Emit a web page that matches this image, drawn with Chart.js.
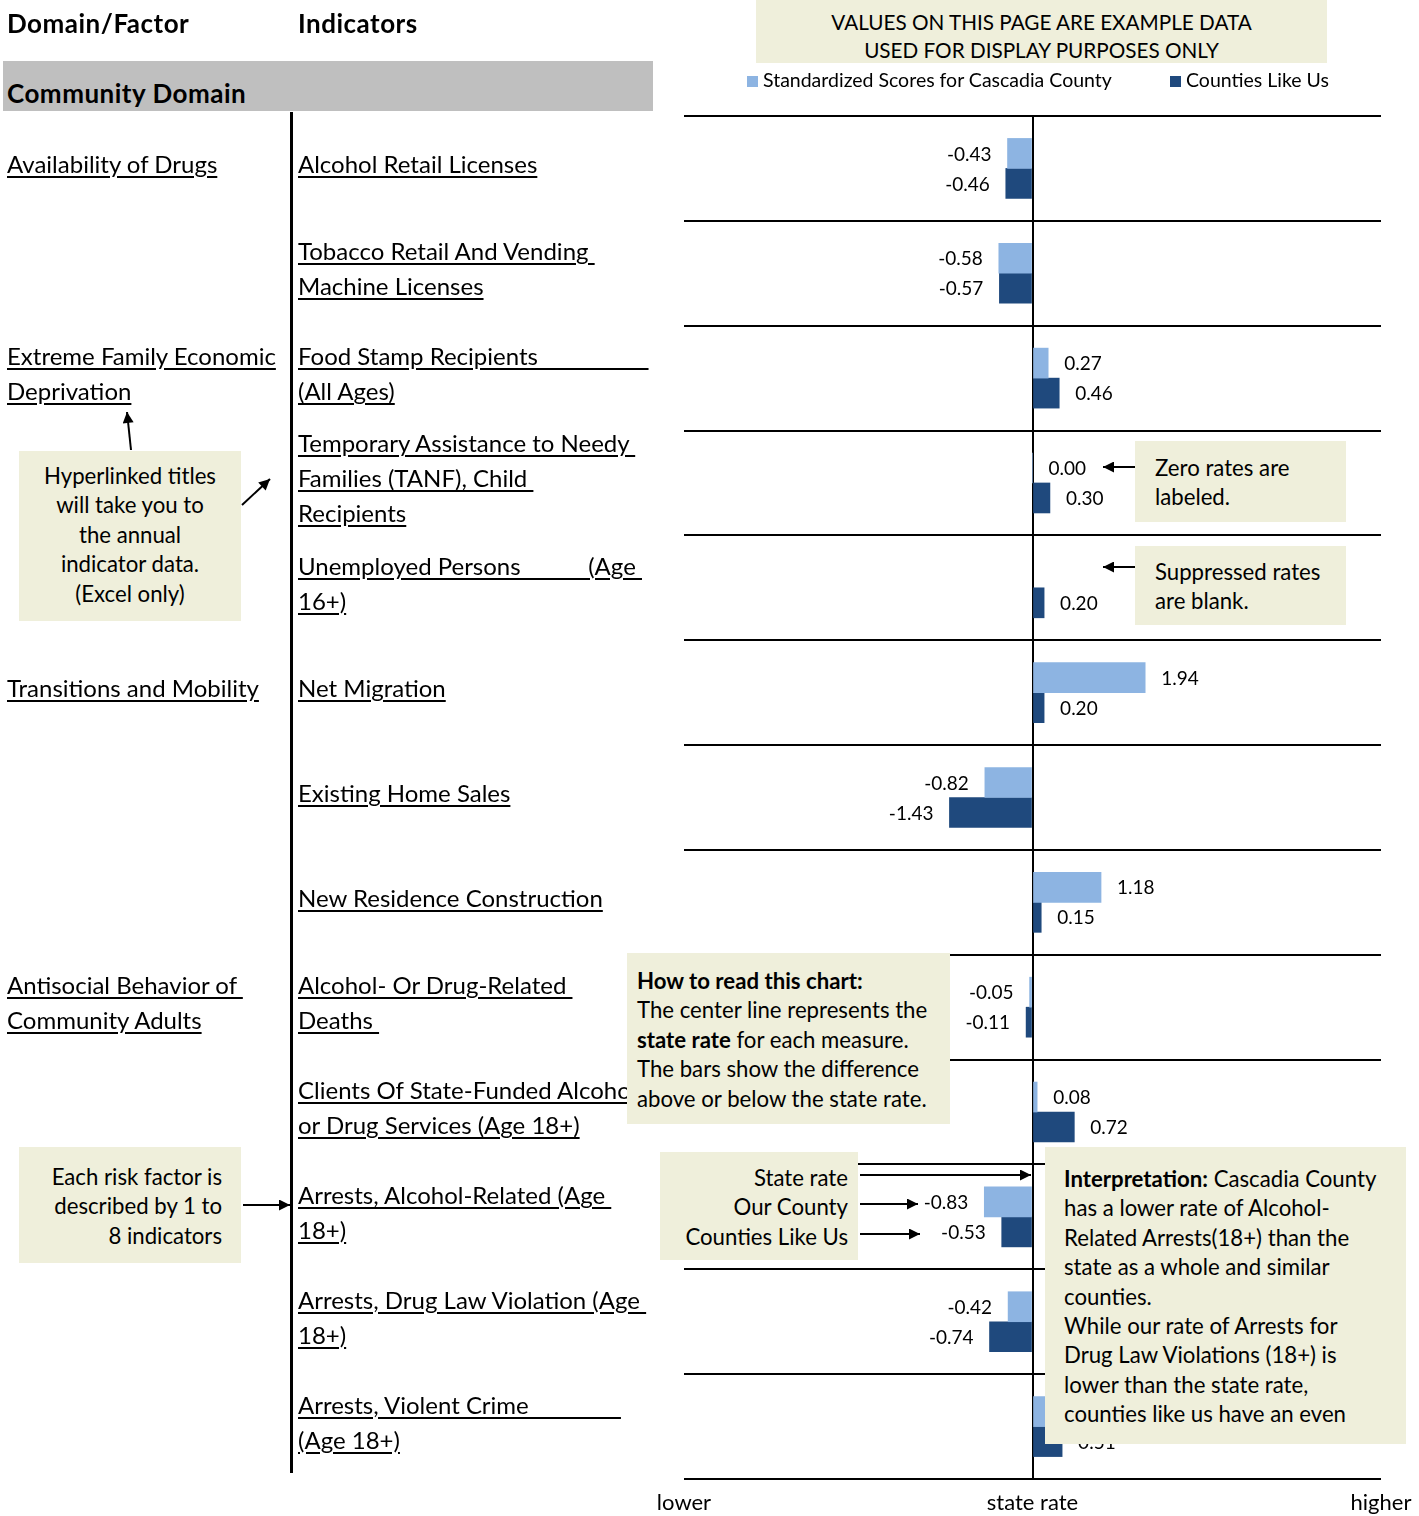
<!DOCTYPE html>
<html>
<head>
<meta charset="utf-8">
<script src="https://cdn.jsdelivr.net/npm/chart.js@4.4.1/dist/chart.umd.min.js"></script>
<style>
  body { margin: 0; background: #fff; }
  #page { position: relative; width: 1419px; height: 1516px; overflow: hidden; font-family: Lato, sans-serif; color: #000; }
  #page canvas { position: absolute; left: 0; top: 0; }
  .t { position: absolute; white-space: pre; line-height: 35px; font-size: 24px; }
  .u { text-decoration: underline; text-underline-offset: 3px; }
  .hdr { position: absolute; font-weight: bold; font-size: 26px; letter-spacing: 0.5px; line-height: 30px; }
  .box { position: absolute; background: #EFEFDB; font-size: 22.2px; line-height: 29.4px; box-sizing: border-box; z-index: 3; white-space: nowrap; }
  .lg { position: absolute; font-size: 19.5px; line-height: 22px; top: 69px; }
  .lg i { display: inline-block; width: 11px; height: 11px; margin-right: 5px; vertical-align: 0px; }
  svg { position: absolute; left: 0; top: 0; z-index: 4; }
</style>
</head>
<body>
<div id="page">
  <canvas id="chart" width="1419" height="1516"></canvas>

  <div class="hdr" style="left:7px; top:8px;">Domain/Factor</div>
  <div class="hdr" style="left:298px; top:8px;">Indicators</div>
  <div style="position:absolute; left:3px; top:61px; width:650px; height:50px; background:#BFBFBF;"></div>
  <div class="hdr" style="left:7px; top:78px;">Community Domain</div>
  <div style="position:absolute; left:290px; top:112px; width:3px; height:1361px; background:#000;"></div>

  <div class="box" style="left:756px; top:0; width:571px; height:63px; padding-top:8px; text-align:center; font-size:20.7px; line-height:28px;">VALUES ON THIS PAGE ARE EXAMPLE DATA<br>USED FOR DISPLAY PURPOSES ONLY</div>
  <div class="lg" style="left:747px;"><i style="background:#8DB4E2"></i>Standardized Scores for Cascadia County</div>
  <div class="lg" style="left:1170px;"><i style="background:#1F497D"></i>Counties Like Us</div>

  <div class="box" style="left:19px; top:451px; width:222px; height:170px; padding-top:10px; text-align:center;">Hyperlinked titles<br>will take you to<br>the annual<br>indicator data.<br>(Excel only)</div>
  <div class="box" style="left:1135px; top:441px; width:211px; height:81px; padding:12px 0 0 20px;">Zero rates are<br>labeled.</div>
  <div class="box" style="left:1135px; top:546px; width:211px; height:79px; padding:11px 0 0 20px;">Suppressed rates<br>are blank.</div>
  <div class="box" style="left:627px; top:953px; width:323px; height:171px; padding:13px 0 0 10px;"><b>How to read this chart:</b><br>The center line represents the<br><b>state rate</b> for each measure.<br>The bars show the difference<br>above or below the state rate.</div>
  <div class="box" style="left:19px; top:1147px; width:222px; height:116px; padding:15px 19px 0 0; text-align:right;">Each risk factor is<br>described by 1 to<br>8 indicators</div>
  <div class="box" style="left:660px; top:1152px; width:198px; height:108px; padding:11px 10px 0 0; text-align:right;">State rate<br>Our County<br>Counties Like Us</div>
  <div class="box" style="left:1045px; top:1147px; width:361px; height:297px; padding:17px 0 0 19px; overflow:hidden;"><b>Interpretation:</b> Cascadia County<br>has a lower rate of Alcohol-<br>Related Arrests(18+) than the<br>state as a whole and similar<br>counties.<br>While our rate of Arrests for<br>Drug Law Violations (18+) is<br>lower than the state rate,<br>counties like us have an even</div>

  <svg width="1419" height="1516">
    <defs>
      <marker id="ah" viewBox="0 0 10 10" refX="10" refY="5" markerWidth="6.5" markerHeight="5.5" orient="auto">
        <path d="M0,0 L10,5 L0,10 z" fill="#000"/>
      </marker>
    </defs>
    <g stroke="#000" stroke-width="2" marker-end="url(#ah)">
      <line x1="131" y1="450" x2="127" y2="412"/>
      <line x1="242" y1="505" x2="270" y2="479"/>
      <line x1="1135" y1="467" x2="1103" y2="467"/>
      <line x1="1135" y1="567" x2="1103" y2="567"/>
      <line x1="243" y1="1205" x2="290" y2="1205"/>
      <line x1="860" y1="1175" x2="1031" y2="1175"/>
      <line x1="860" y1="1204" x2="918" y2="1204"/>
      <line x1="860" y1="1234" x2="920" y2="1234"/>
    </g>
  </svg>
</div>

<script>
// indicator rows, top to bottom
const indicators = [
  "Alcohol Retail Licenses",
  "Tobacco Retail And Vending \nMachine Licenses",
  "Food Stamp Recipients                  \n(All Ages)",
  "Temporary Assistance to Needy \nFamilies (TANF), Child \nRecipients",
  "Unemployed Persons           (Age \n16+)",
  "Net Migration",
  "Existing Home Sales",
  "New Residence Construction",
  "Alcohol- Or Drug-Related \nDeaths ",
  "Clients Of State-Funded Alcohol \nor Drug Services (Age 18+)",
  "Arrests, Alcohol-Related (Age \n18+)",
  "Arrests, Drug Law Violation (Age \n18+)",
  "Arrests, Violent Crime               \n(Age 18+)"
];
const domains = [
  "Availability of Drugs", "", "Extreme Family Economic\nDeprivation", "", "",
  "Transitions and Mobility", "", "",
  "Antisocial Behavior of \nCommunity Adults", "", "", "", ""
];
// standardized scores, null = suppressed
const countyScores = [-0.43, -0.58, 0.27, 0.00, null, 1.94, -0.82, 1.18, -0.05, 0.08, -0.83, -0.42, 0.35];
const peerScores   = [-0.46, -0.57, 0.46, 0.30, 0.20, 0.20, -1.43, 0.15, -0.11, 0.72, -0.53, -0.74, 0.51];
const axisLabels = ["lower", "state rate", "higher"];
const axisMin = -6, axisMax = 6;

const page = document.getElementById("page");
const rowTop = 116, rowH = (1479 - 116) / 13;

function addLines(text, left, i) {
  const lines = text.split("\n");
  const c = rowTop + (i + 0.5) * rowH - 5;
  lines.forEach((ln, k) => {
    const d = document.createElement("div");
    d.className = "t";
    d.style.left = left + "px";
    d.style.top = (c - (lines.length - 1) * 17.5 + k * 35 - 17.5) + "px";
    const s = document.createElement("span");
    s.className = "u";
    s.textContent = ln;
    d.appendChild(s);
    page.appendChild(d);
  });
}
indicators.forEach((t, i) => addLines(t, 298, i));
domains.forEach((t, i) => { if (t) addLines(t, 7, i); });

const valueLabels = {
  id: "valueLabels",
  afterDatasetsDraw(chart) {
    const ctx = chart.ctx;
    ctx.save();
    ctx.font = "19px Lato";
    ctx.fillStyle = "#000";
    ctx.textBaseline = "middle";
    chart.data.datasets.forEach((ds, i) => {
      chart.getDatasetMeta(i).data.forEach((bar, j) => {
        const v = ds.data[j];
        if (v === null) return;
        if (v < 0) {
          ctx.textAlign = "right";
          ctx.fillText(v.toFixed(2), bar.x - 16, bar.y + 1);
        } else {
          ctx.textAlign = "left";
          ctx.fillText(v.toFixed(2), bar.x + 16, bar.y + 1);
        }
      });
    });
    ctx.restore();
  }
};

function draw() {
  new Chart(document.getElementById("chart"), {
    type: "bar",
    data: {
      labels: indicators,
      datasets: [
        { label: "Standardized Scores for Cascadia County", data: countyScores, backgroundColor: "#8DB4E2", barThickness: 30 },
        { label: "Counties Like Us", data: peerScores, backgroundColor: "#1F497D", barThickness: 30 }
      ]
    },
    options: {
      indexAxis: "y",
      responsive: false,
      animation: false,
      devicePixelRatio: 1,
      layout: { padding: { left: 684, right: 38, top: 116, bottom: 0 } },
      plugins: { legend: { display: false }, tooltip: { enabled: false } },
      scales: {
        y: {
          type: "category",
          offset: true,
          ticks: { display: false },
          grid: { offset: true, color: "#000", lineWidth: 2, drawTicks: false },
          border: { display: false },
          afterFit: (scale) => { scale.width = 0; }
        },
        x: {
          type: "linear",
          min: axisMin,
          max: axisMax,
          afterBuildTicks: (scale) => {
            scale.ticks = [{ value: axisMin }, { value: 0 }, { value: axisMax }];
          },
          ticks: {
            autoSkip: false,
            maxRotation: 0,
            padding: 11,
            color: "#000",
            font: { family: "Lato", size: 22 },
            callback: (v) => v === axisMin ? axisLabels[0] : (v === 0 ? axisLabels[1] : axisLabels[2])
          },
          grid: {
            drawTicks: false,
            lineWidth: 2,
            color: (c) => (c.tick && c.tick.value === 0) ? "#000" : "rgba(0,0,0,0)"
          },
          border: { display: false },
          afterFit: (scale) => {
            scale.height = 37;
            scale.paddingLeft = 0;
            scale.paddingRight = 0;
          }
        }
      }
    },
    plugins: [valueLabels]
  });
}

document.fonts.load("19px Lato").then(draw, draw);
</script>
</body>
</html>
